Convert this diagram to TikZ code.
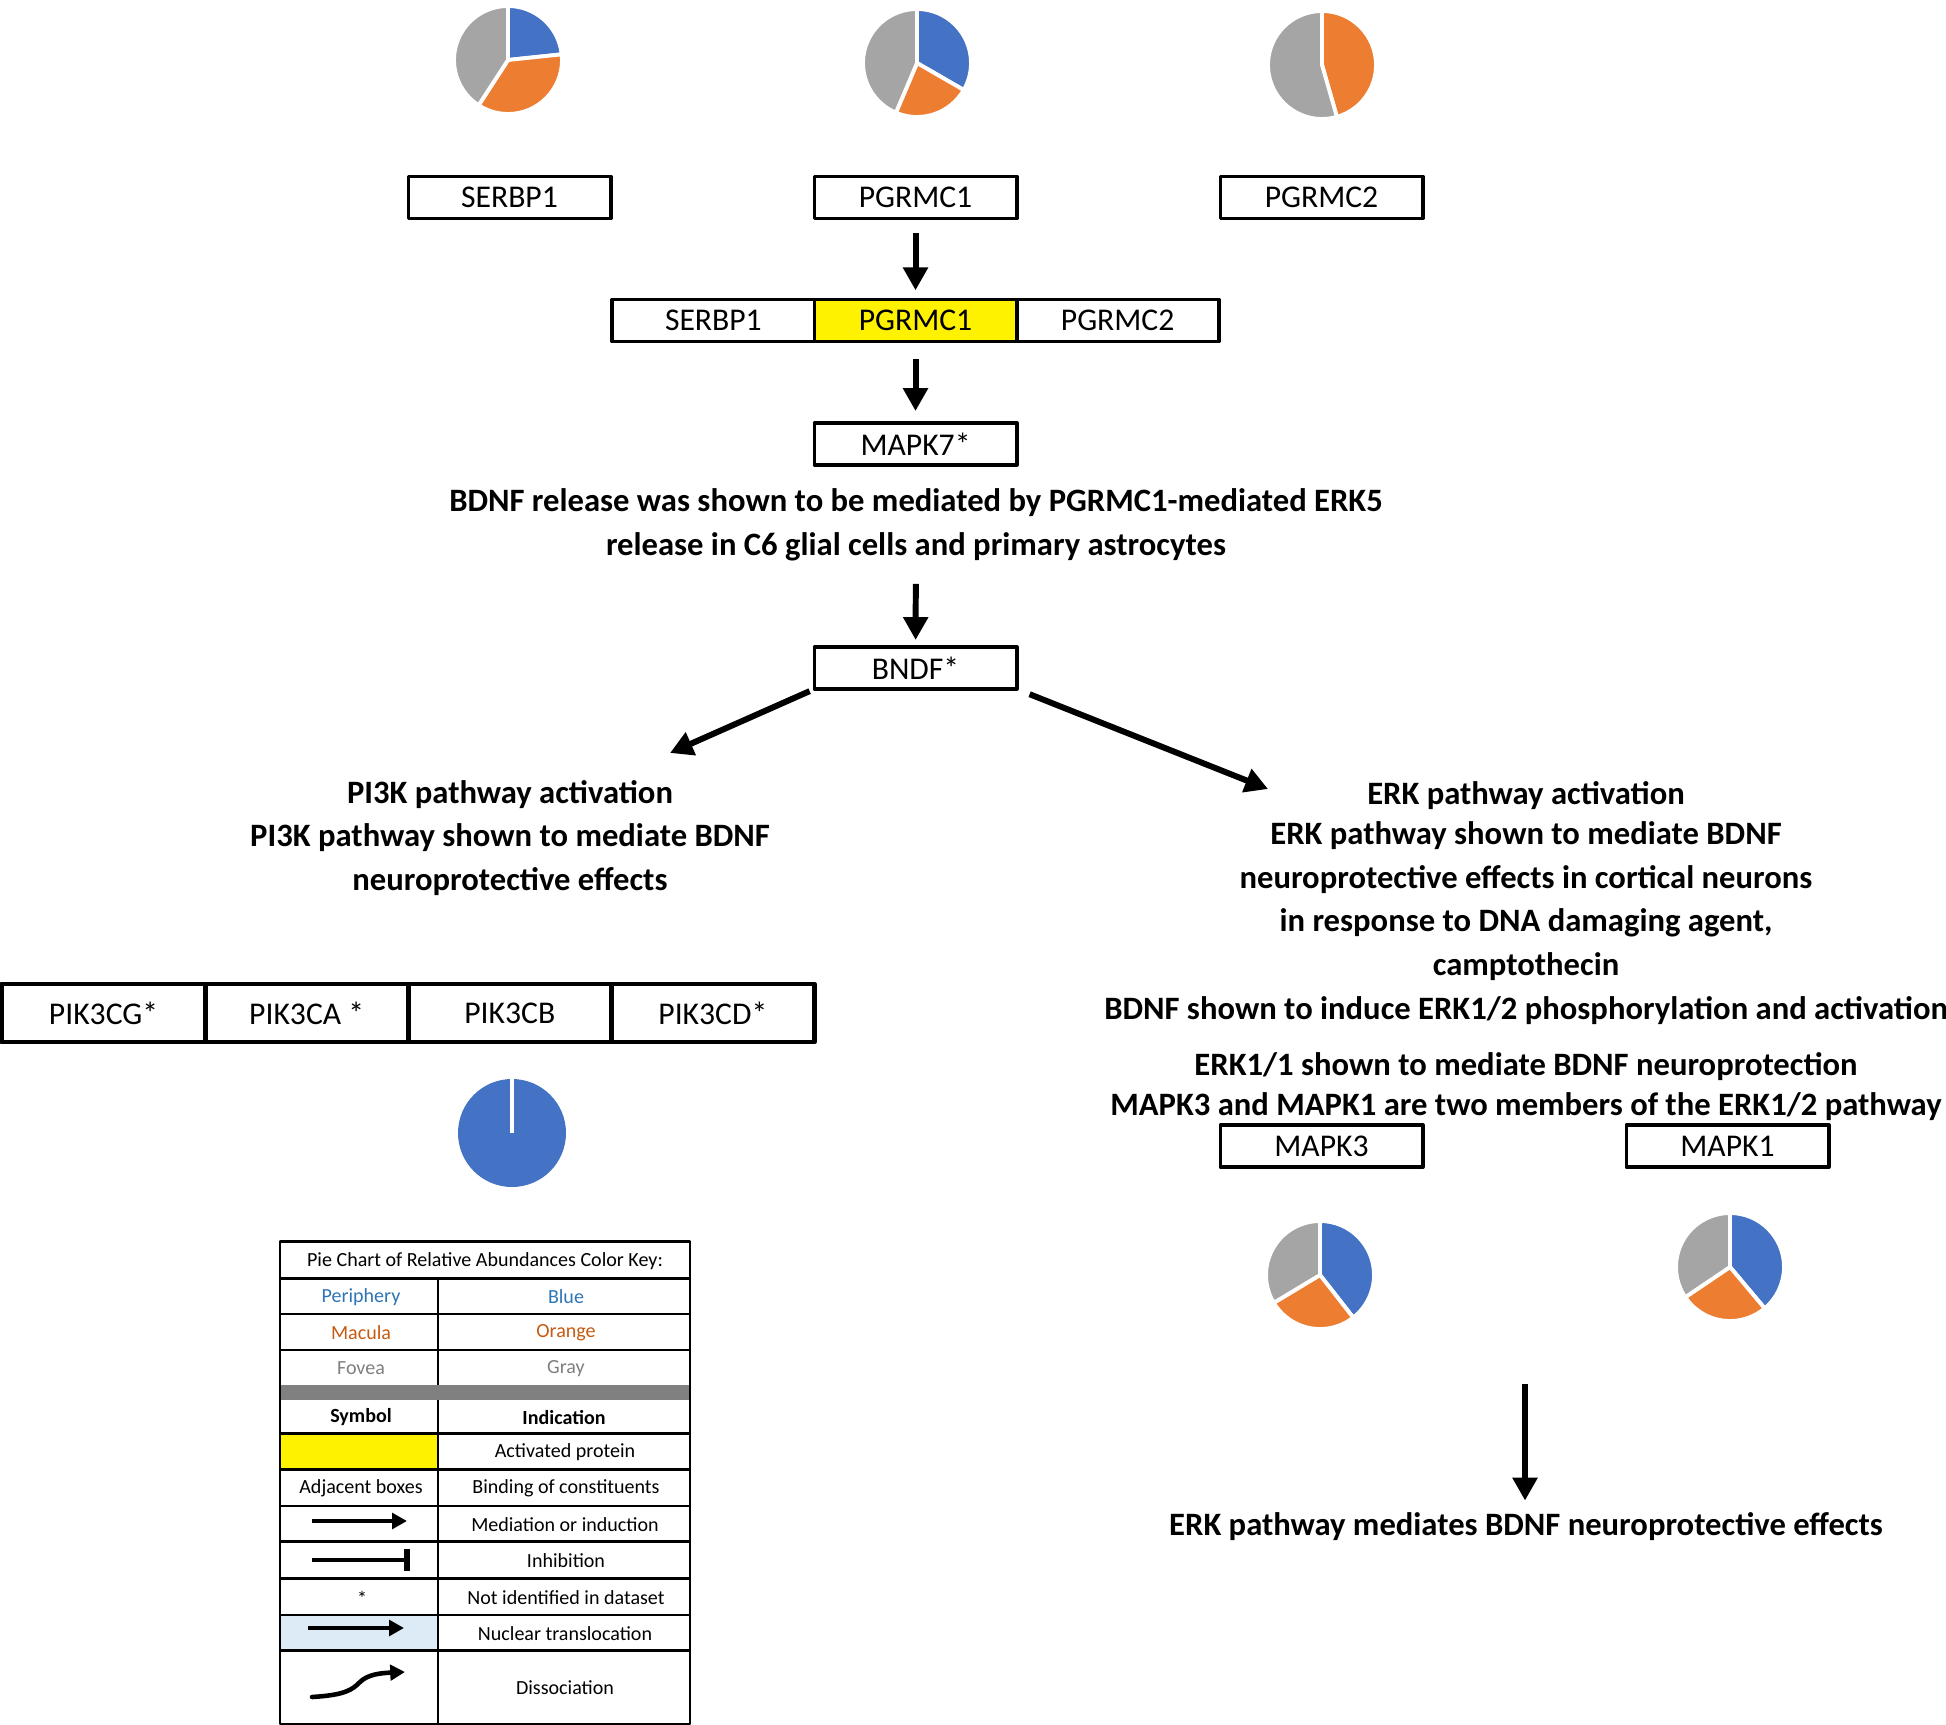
\documentclass[tikz,border=0pt]{standalone}
\usepackage{fontspec}
\setmainfont{Carlito}
\usetikzlibrary{arrows.meta,positioning}
\definecolor{pieblue}{HTML}{4472C4}
\definecolor{pieorange}{HTML}{ED7D31}
\definecolor{piegray}{HTML}{A5A5A5}
\definecolor{keyblue}{HTML}{2E75B6}
\definecolor{keyorange}{HTML}{C55A11}
\definecolor{keygray}{HTML}{7F7F7F}
\definecolor{keyband}{HTML}{808080}
\definecolor{nucblue}{HTML}{DDEBF7}
\tikzset{
  gene/.style={draw, line width=1.1pt, outer sep=0pt, inner sep=0pt, minimum width=2.02cm, minimum height=0.42cm, font=\fontsize{9}{11}\selectfont},
  pik/.style={gene, line width=1.4pt, minimum width=2.03cm, minimum height=0.58cm},
  note/.style={align=center, font=\fontsize{9.28}{12.4}\selectfont\bfseries},
  flow/.style={-{Triangle[length=6.5pt,width=6.8pt]}, line width=1.7pt},
  keyflow/.style={-{Triangle[length=4.2pt,width=4.4pt]}, line width=1.3pt},
  key/.style={font=\fontsize{5.7}{6.5}\selectfont},
  keyline/.style={line width=0.75pt},
  slice/.style={draw=white, line width=1.1pt},
}
\begin{document}
\begin{tikzpicture}[x=0.01cm, y=-0.01cm, line join=round]
\useasboundingbox (0,0) rectangle (1946,1725);

% pies above the single proteins
\begin{scope}[shift={(508,60)}, yscale=-1]
\filldraw[slice, fill=pieblue] (0,0) -- (90:54) arc[start angle=90, end angle=6, radius=54] -- cycle;
\filldraw[slice, fill=pieorange] (0,0) -- (6:54) arc[start angle=6, end angle=-123, radius=54] -- cycle;
\filldraw[slice, fill=piegray] (0,0) -- (-123:54) arc[start angle=-123, end angle=-270, radius=54] -- cycle;
\end{scope}
\begin{scope}[shift={(917,63)}, yscale=-1]
\filldraw[slice, fill=pieblue] (0,0) -- (90:54) arc[start angle=90, end angle=-30, radius=54] -- cycle;
\filldraw[slice, fill=pieorange] (0,0) -- (-30:54) arc[start angle=-30, end angle=-113, radius=54] -- cycle;
\filldraw[slice, fill=piegray] (0,0) -- (-113:54) arc[start angle=-113, end angle=-270, radius=54] -- cycle;
\end{scope}
\begin{scope}[shift={(1322,65)}, yscale=-1]
\filldraw[slice, fill=pieorange] (0,0) -- (90:54) arc[start angle=90, end angle=-74, radius=54] -- cycle;
\filldraw[slice, fill=piegray] (0,0) -- (-74:54) arc[start angle=-74, end angle=-270, radius=54] -- cycle;
\end{scope}

\node[gene] (serbp1) at (509.5,197.5) {SERBP1};
\node[gene] (pgrmc1) at (915.5,197.5) {PGRMC1};
\node[gene] (pgrmc2) at (1321.5,197.5) {PGRMC2};

% bound complex
\node[gene, fill=yellow] (cpgrmc1) at (915.5,320.5) {PGRMC1};
\node[gene, left=0pt of cpgrmc1] (cserbp1) {SERBP1};
\node[gene, right=0pt of cpgrmc1] (cpgrmc2) {PGRMC2};

\node[gene] (mapk7) at (915.5,444) {MAPK7*};
\node[note] (bdnftext) at (916,525) {BDNF release was shown to be mediated by PGRMC1-mediated ERK5\\release in C6 glial cells and primary astrocytes};
\node[gene] (bndf) at (915.5,668) {BNDF*};

\draw[flow, shorten <=4pt, shorten >=2.6pt] (pgrmc1) -- (cpgrmc1);
\draw[flow, shorten <=5pt, shorten >=3.4pt] (cpgrmc1) -- (mapk7);
\draw[flow, shorten <=3pt, shorten >=2pt] (bdnftext) -- (bndf);

\coordinate (pi3kin) at (670,753);
\coordinate (erkin) at (1268,789);
\draw[flow, shorten <=1.5pt] (bndf.south west) -- (pi3kin);
\draw[flow, shorten <=4pt] (bndf.south east) -- (erkin);

% PI3K side
\node[note] (pi3ktext) at (510,838) {PI3K pathway activation\\PI3K pathway shown to mediate BDNF\\neuroprotective effects};
\node[pik] (pik3cg) at (103.5,1013) {PIK3CG*};
\node[pik, right=0pt of pik3cg] (pik3ca) {PIK3CA *};
\node[pik, right=0pt of pik3ca] (pik3cb) {PIK3CB};
\node[pik, right=0pt of pik3cb] (pik3cd) {PIK3CD*};
\begin{scope}[shift={(512,1133)}, yscale=-1]
\fill[pieblue] (0,0) circle[radius=54];
\draw[white, line width=1pt] (0,0) -- (90:55);
\end{scope}

% ERK side
\node[note] (erktext) at (1526,903) {ERK pathway activation\\[-1pt]ERK pathway shown to mediate BDNF\\neuroprotective effects in cortical neurons\\in response to DNA damaging agent,\\camptothecin\\BDNF shown to induce ERK1/2 phosphorylation and activation};
\node[note, font=\fontsize{9.28}{11.4}\selectfont\bfseries] (erk12text) at (1526,1087) {ERK1/1 shown to mediate BDNF neuroprotection\\MAPK3 and MAPK1 are two members of the ERK1/2 pathway};
\node[gene] (mapk3) at (1321.5,1146) {MAPK3};
\node[gene] (mapk1) at (1727.5,1146) {MAPK1};
\begin{scope}[shift={(1320,1275)}, yscale=-1]
\filldraw[slice, fill=pieblue] (0,0) -- (90:54) arc[start angle=90, end angle=-52, radius=54] -- cycle;
\filldraw[slice, fill=pieorange] (0,0) -- (-52:54) arc[start angle=-52, end angle=-149, radius=54] -- cycle;
\filldraw[slice, fill=piegray] (0,0) -- (-149:54) arc[start angle=-149, end angle=-270, radius=54] -- cycle;
\end{scope}
\begin{scope}[shift={(1730,1267)}, yscale=-1]
\filldraw[slice, fill=pieblue] (0,0) -- (90:54) arc[start angle=90, end angle=-50, radius=54] -- cycle;
\filldraw[slice, fill=pieorange] (0,0) -- (-50:54) arc[start angle=-50, end angle=-146, radius=54] -- cycle;
\filldraw[slice, fill=piegray] (0,0) -- (-146:54) arc[start angle=-146, end angle=-270, radius=54] -- cycle;
\end{scope}
\node[note] (erkfinal) at (1526,1527) {ERK pathway mediates BDNF neuroprotective effects};
\coordinate (erkout) at (1525,1384);
\draw[flow] (erkout) -- (erkout |- erkfinal.north);

% colour and symbol key
\fill[yellow] (280,1433.3) rectangle (438,1469.3);
\fill[nucblue] (280,1615) rectangle (438,1650.7);
\fill[keyband] (280,1385) rectangle (690,1400);
\foreach \y in {1278.3,1314,1350,1433.3,1469.3,1506,1541.7,1578.3,1615,1650.7}
  \draw[keyline] (280,\y) -- (690,\y);
\draw[keyline] (438,1278.3) -- (438,1385);
\draw[keyline] (438,1400) -- (438,1724);
\draw[keyline] (280,1241.7) rectangle (690,1724);

\node[key] (keytitle) at (485,1261) {Pie Chart of Relative Abundances Color Key:};
\node[key, text=keyblue] (periphery) at (361,1297) {Periphery};
\node[key, text=keyblue] (blue) at (566,1297) {Blue};
\node[key, text=keyorange] (macula) at (361,1333) {Macula};
\node[key, text=keyorange] (orange) at (566,1333) {Orange};
\node[key, text=keygray] (fovea) at (361,1368.5) {Fovea};
\node[key, text=keygray] (gray) at (566,1368.5) {Gray};
\node[key, font=\fontsize{5.7}{6.5}\selectfont\bfseries] (symbol) at (361,1417.5) {Symbol};
\node[key, font=\fontsize{5.7}{6.5}\selectfont\bfseries] (indication) at (564,1417.5) {Indication};
\node[key] (activated) at (565,1452) {Activated protein};
\node[key] (adjacent) at (361,1488.5) {Adjacent boxes};
\node[key] (binding) at (566,1488.5) {Binding of constituents};
\node[key] (mediation) at (565,1524.5) {Mediation or induction};
\node[key] (inhibition) at (566,1561) {Inhibition};
\node[key] (star) at (362,1598) {*};
\node[key] (notfound) at (566,1597.5) {Not identified in dataset};
\node[key] (nuclear) at (565,1633.5) {Nuclear translocation};
\node[key] (dissociation) at (565,1688) {Dissociation};

\draw[keyflow] (312,1521) -- (407,1521);
\draw[line width=1.3pt] (312,1560) -- (406,1560);
\draw[line width=1.5pt] (407,1549) -- (407,1571);
\draw[keyflow] (308,1628) -- (404,1628);
\draw[keyflow, line cap=round] (312,1697) .. controls (345,1695) and (352,1690) .. (360,1682) .. controls (368,1674) and (382,1673) .. (405,1672);
\end{tikzpicture}
\end{document}
